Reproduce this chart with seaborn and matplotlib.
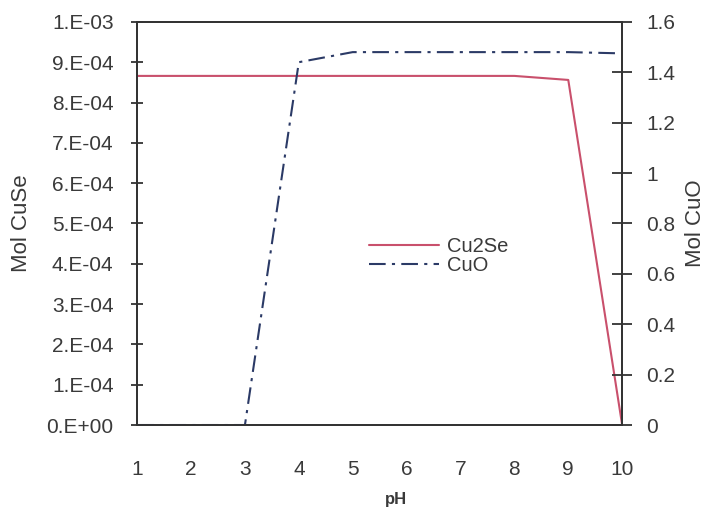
import numpy as np
import pandas as pd
import matplotlib
matplotlib.use('Agg')
import matplotlib.pyplot as plt
import seaborn as sns

ph = [1, 2, 3, 4, 5, 6, 7, 8, 9, 10]
cu2se = [8.66e-4, 8.66e-4, 8.66e-4, 8.66e-4, 8.66e-4, 8.66e-4, 8.66e-4, 8.66e-4, 8.56e-4, 0.0]
cuo = [0.0, 0.0, 0.0, 1.44, 1.48, 1.48, 1.48, 1.48, 1.48, 1.475]

left_ticks = [i * 1e-4 for i in range(11)]
left_labels = ['0.E+00', '1.E-04', '2.E-04', '3.E-04', '4.E-04', '5.E-04',
               '6.E-04', '7.E-04', '8.E-04', '9.E-04', '1.E-03']
right_ticks = [0, 0.2, 0.4, 0.6, 0.8, 1, 1.2, 1.4, 1.6]
right_labels = ['0', '0.2', '0.4', '0.6', '0.8', '1', '1.2', '1.4', '1.6']

sns.set_style('white')
plt.rcParams['font.family'] = ['Liberation Sans', 'DejaVu Sans']

df = pd.DataFrame({'pH': ph, 'Cu2Se': cu2se, 'CuO': cuo})
txt = '#3a3a3a'

fig = plt.figure(figsize=(7.07, 5.09), dpi=100)
ax = fig.add_axes([0.194, 0.165, 0.686, 0.792])
ax2 = ax.twinx()

sns.lineplot(x='pH', y='Cu2Se', data=df, ax=ax, color='#c9506c', lw=1.5, label='Cu2Se', legend=False)
sns.lineplot(x='pH', y='CuO', data=df, ax=ax2, color='#2b3a66', lw=1.5,
             linestyle=(0, (8, 3, 1.5, 3)), label='CuO', legend=False)

ax.set_xlim(1, 10)
ax.set_ylim(0, 1e-3)
ax2.set_ylim(0, 1.6)
ax.set_xticks(ph)
ax.set_xticklabels([str(p) for p in ph], fontsize=15, color=txt)
ax.set_yticks(left_ticks)
ax.set_yticklabels(left_labels, fontsize=15, color=txt)
ax2.set_yticks(right_ticks)
ax2.set_yticklabels(right_labels, fontsize=15, color=txt)

ax.tick_params(axis='y', direction='inout', length=8, width=1.3, color='#333333', pad=13)
ax.tick_params(axis='x', direction='out', length=5, width=1.3, color='#333333', pad=20)
ax2.tick_params(axis='y', direction='inout', length=15, width=1.3, color='#333333', pad=10)

for a in (ax, ax2):
    for s in a.spines.values():
        s.set_color('#333333')
        s.set_linewidth(1.3)

ax.set_xlabel('pH', fontsize=12, fontweight='bold', color=txt)
ax.set_ylabel('Mol CuSe', fontsize=16, color=txt)
ax2.set_ylabel('Mol CuO', fontsize=16, color=txt)
ax.xaxis.set_label_coords(0.534, -0.166)
ax.yaxis.set_label_coords(-0.2165, 0.5)
ax2.yaxis.set_label_coords(1.13, 0.5)

h1, l1 = ax.get_legend_handles_labels()
h2, l2 = ax2.get_legend_handles_labels()
ax2.legend(h1 + h2, l1 + l2, loc='center left', bbox_to_anchor=(0.44, 0.42),
           frameon=False, fontsize=14.5, handlelength=3.5, handletextpad=0.4,
           labelspacing=0.0, labelcolor=txt)

fig.savefig('out.png', dpi=100)
